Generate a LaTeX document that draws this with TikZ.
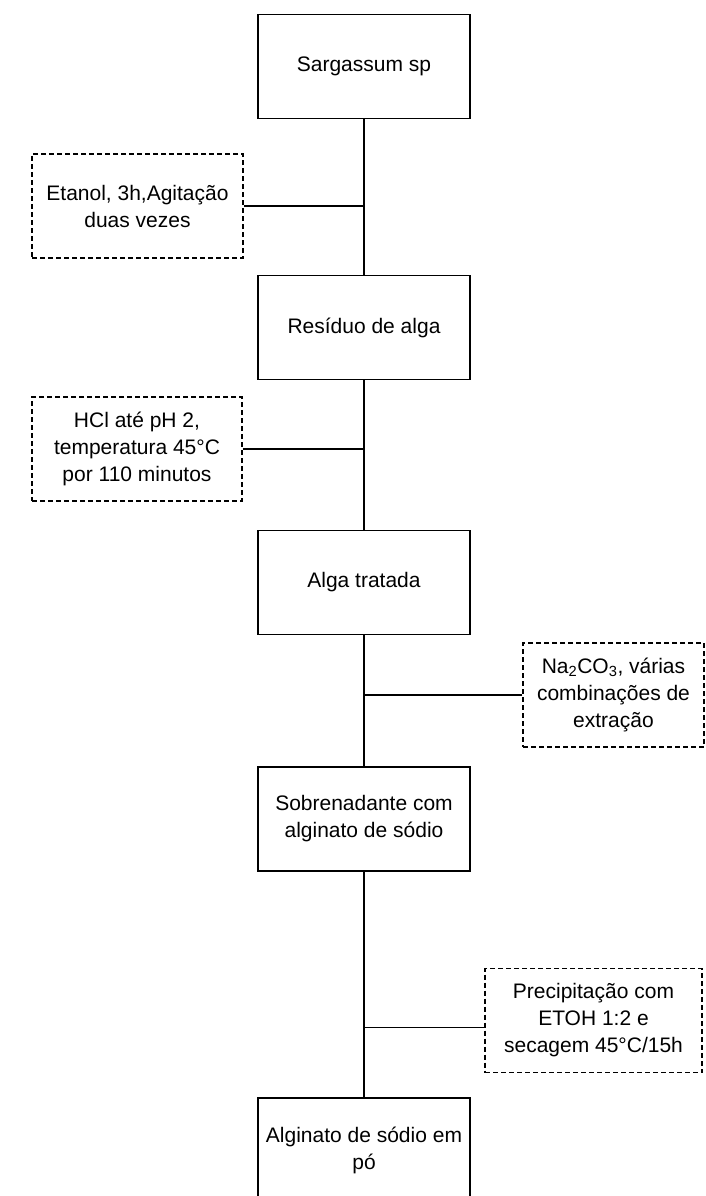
\documentclass[tikz,border=0pt]{standalone}
\usepackage{fontspec}
\setmainfont{Liberation Sans}
\usepackage{tikz}
\usetikzlibrary{calc}
\tikzset{>=stealth,
  stage/.style={draw,line width=1.6pt,minimum width=212pt,minimum height=104pt,align=center,inner sep=0pt},
  cond/.style={draw,dashed,dash pattern=on 5pt off 3pt,line width=1.3pt,minimum height=104pt,align=center,inner sep=0pt},
  link/.style={line width=1.6pt}}

\begin{document}
\begin{tikzpicture}[x=1pt,y=-1pt,font=\fontsize{21}{27}\selectfont]
\useasboundingbox (0,0) rectangle (705,1196);
    \node[stage] (sarg) at (364,66.5) {Sargassum sp};
    \node[stage] (resid) at (364,327.5) {Resíduo de alga};
    \node[stage] (trat) at (364,582.5) {Alga tratada};
    \node[stage] (sobre) at (364,819) {Sobrenadante com\\alginato de sódio};
    \node[stage] (po) at (364,1150) {Alginato de sódio em\\pó};
    \node[cond,minimum width=211pt] (etanol) at (137.5,206) {Etanol, 3h,Agitação\\duas vezes};
    \node[cond,minimum width=210pt] (hcl) at (137,449) {HCl até pH 2,\\temperatura 45°C\\por 110 minutos};
    \node[cond,minimum width=181pt] (carb) at (613.5,695) {Na\textsubscript{2}CO\textsubscript{3}, várias\\combinações de\\extração};
    \node[cond,minimum width=217pt] (etoh) at (593.5,1020.5) {Precipitação com\\ETOH 1:2 e\\secagem 45°C/15h};
    \draw[link] (sarg) -- (resid);
    \draw[link] (resid) -- (trat);
    \draw[link] (trat) -- (sobre);
    \draw[link] (sobre) -- (po);
    \draw[link] (etanol.east) -- (etanol.east -| sarg.south);
    \draw[link] (hcl.east) -- (hcl.east -| resid.south);
    \draw[link] (carb.west) -- (carb.west -| trat.south);
    \draw[link] ($(etoh.west)+(0,7)$) -- ($(etoh.west -| sobre.south)+(0,7)$);
    \end{tikzpicture}
\end{document}
